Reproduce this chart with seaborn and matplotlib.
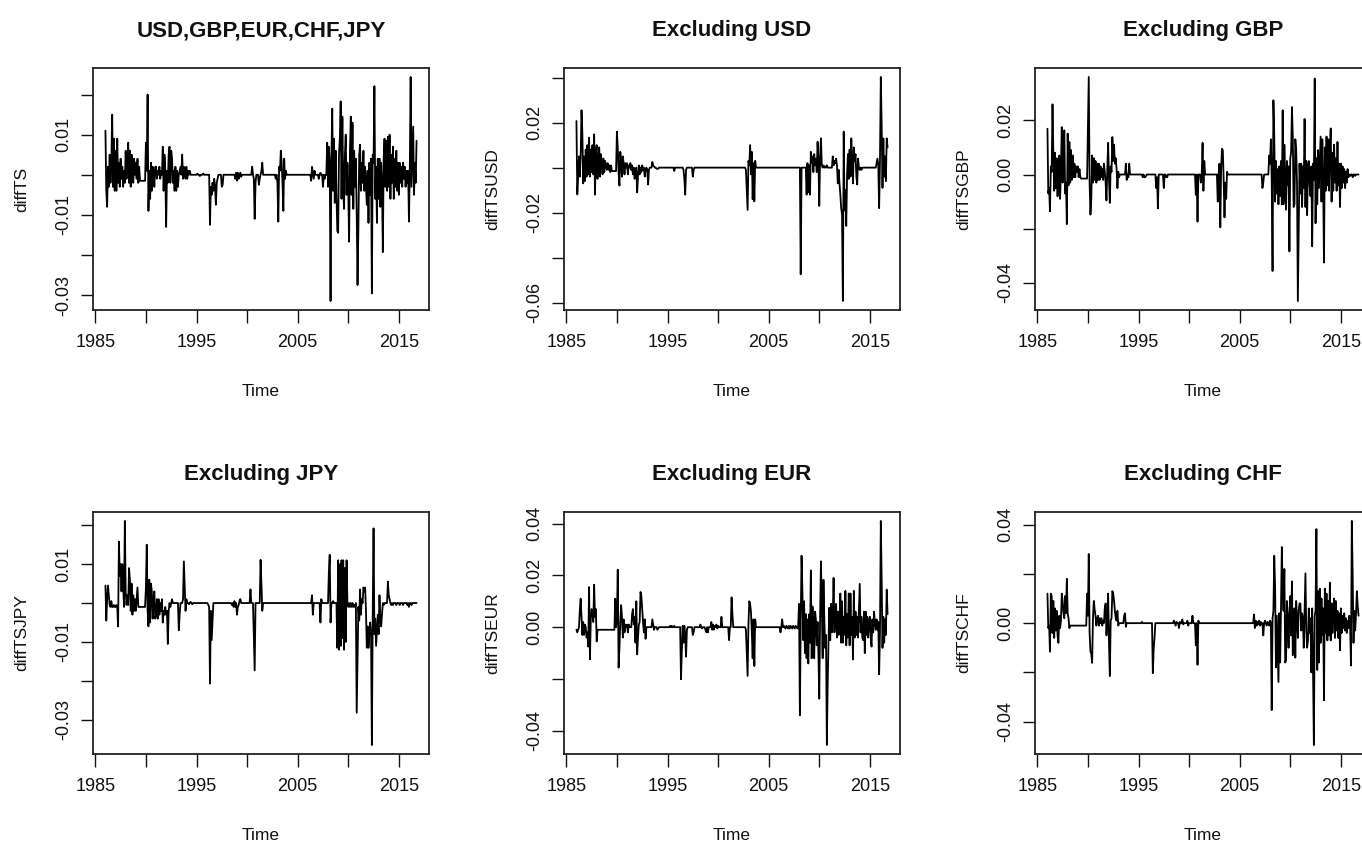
import numpy as np
import pandas as pd
import matplotlib
matplotlib.use("Agg")
import matplotlib.pyplot as plt
import seaborn as sns

# ---- data: monthly differences, Jan 1986 - Oct 2016, in units of 1e-3 ----
start_year = 1986

diff_all = [
    11, -4, -8, 2, -3, 5, -2, 3, 15, -3, 9, -4,            # 1986
    6, -4, 9, -2, 3, -3, 4, -1, 2, -3, 1, -2,              # 1987
    6, -1, 3, 8, -2, 6, -3, 5, 1, -2, 4, 0,                # 1988
    3, -1, 4, -2, 2, -1.5, -1.5, -1.5, -1.5, -1.5, -1.5, -1.5,  # 1989
    8, 1, 20, -9, 1, -6, 3, -4, 2, 1, -3, 2,               # 1990
    2, -1, 1, 0, 2, -1, 1, 0, 7, -4, 5, 1,                 # 1991
    -13, 1, -2, 5, 7, -2, 6, 4, -2, 1, -4, 2,              # 1992
    -4, 1, -3, 0, 1, 2, 0, 5, -1, 2, 0, -1,                # 1993
    2, -1, 1, 0, 1, 0, 0, 0, 0, 0, 0, 0,                   # 1994
    0, 0.3, 0, 0, -0.3, 0, 0, 0, 0.3, 0, 0, 0,             # 1995
    0, 0, 0, 0, -12.5, -3, -5, -2, -4, -1, -3, -7.5,       # 1996
    -2, -1, 0, 0, 0, 0, -3, -2.5, 0, 0, 0, 0,              # 1997
    0, 0, 0, 0, 0, 0, 0, 0, 0, 0, -1, 0.5,                 # 1998
    -1.5, 0.5, -1, 0, 0.5, -0.5, 0, 0, 0, 0, 0, 0,         # 1999
    0, 0, 0, 0, 0, 0, 2, 0, -1, -11, -2, 0,                # 2000
    0, 0, -2.5, -1, 0, 1, 3, 0, 0, 0, 0, 0,                # 2001
    0, 0, 0, 0, 0, 0, 0, 0, 0, 0, -1, 0,                   # 2002
    -2, -11.7, 2, 1, 6, 3, -2, -9, 4, -1, 1, 0,            # 2003
    0, 0, 0, 0, 0, 0, 0, 0, 0, 0, 0, 0,                    # 2004
    0, 0, 0, 0, 0, 0, 0, 0, 0, 0, 0, 0,                    # 2005
    0, 0, 0, 0, -1.5, 2, 0.5, -1, 1, 0, 0, 0,              # 2006
    0, -1, 0, 0.5, 0, 0, -3, 0, -1, 0, 0, 8,               # 2007
    -3, 7, 3, -31.5, 4, 16.5, -4, 9, -7, 6, -5, -14,       # 2008
    -14.5, 5, 9, 18.3, -6, 14.5, -3, -8.5, 5, 10, -5, 3,   # 2009
    -4, -16.7, 6, 14.5, -5, 13, -8.5, 6, -3, 4, -9.5, -27.5,  # 2010
    -13.5, 5, 7.5, -4, 3, -2, 6, -4, 2, -3, -7.5, 1,       # 2011
    -12, 3, -5, 4, -29.6, 5, 3, 22.1, -6, 2, -12, 4,       # 2012
    -6, 4, -8, 3, -2, -19.3, 4, 9, -3, 8.5, -4, 9.5,       # 2013
    -3, 10, -6, 5, -2, 7, -6, 4, -3, 6, -4, 3,             # 2014
    -5, 3, -2, 2, -3, 3, -1, 2, -3, 1, -2, 1,              # 2015
    -11.7, 2, 24.4, -3, 5, 12, -5, 3, -2, 8.5,             # 2016
]

diff_usd = [
    20.7, -11.9, -4, 5, -4, 5, 25.5, 15.6, -7, 5, -6, 8,   # 1986
    -4, 10, -3, 13.3, -4, 8, -2, 10, -3, 14.8, -12, 6,     # 1987
    10, -5, 4, 9, -4, 6, 2, -3, 4, -2, 3, 1,               # 1988
    -1, 2, -1, 1, -2, 1, -1.5, -1.5, -1.5, -1.5, -1.5, -1.5,  # 1989
    16, 9, -2, -8, 7, 3, -4, 5, 2, -3, 2, 0,               # 1990
    2, -3, 1, 0, 2, -1, 1, -3, 0, -5, -2, 0,               # 1991
    -11, -4, 1, -3, 0, -2, 1, -1, 0, -4, -1, 0,            # 1992
    -1, -7.5, -1, 0, 0, 0, 2.5, 1, 0.5, 0, 0, -0.5,        # 1993
    -0.5, -0.5, 0, 0, 0, 0, 0, 0, 0, 0, 0, 0,              # 1994
    0, 0, 0, 0, 0, 0, 0, 0, -1.5, 0, 0, 0,                 # 1995
    0, 0, 0, 0, 0, 0, 0, -1, -5, -12, -1, 0,               # 1996
    0, 0, 0, 0, 0, 0, -4, -1, 0, 0, 0, 0,                  # 1997
    0, 0, 0, 0, 0, 0, 0, 0, 0, 0, 0, 0,                    # 1998
    0, 0, 0, 0, 0, 0, 0, 0, 0, 0, 0, 0,                    # 1999
    0, 0, 0, 0, 0, 0, 0, 0, 0, 0, 0, 0,                    # 2000
    0, 0, 0, 0, 0, 0, 0, 0, 0, 0, 0, 0,                    # 2001
    0, 0, 0, 0, 0, 0, 0, 0, 0, -1, -10, -18.8,             # 2002
    3, 1, 10, -3, 7, -14, 2, -15, 3, 0, 0, 0,              # 2003
    0, 0, 0, 0, 0, 0, 0, 0, 0, 0, 0, 0,                    # 2004
    0, 0, 0, 0, 0, 0, 0, 0, 0, 0, 0, 0,                    # 2005
    0, 0, 0, 0, 0, 0, 0, 0, 0, 0, 0, 0,                    # 2006
    0, 0, 0, 0, 0, 0, 0, 0, 0, 0, 0, 0,                    # 2007
    0, 0, -47.4, 0, 0, 0, 0, 0, 0, -12, 2, -11,            # 2008
    1, -12, 7, 2, 5, -2, 6, 1, 4, -2, 11.5, 3,             # 2009
    -17, 5, 13, 1, 0, 1, 0, 0.5, 0, 1, 0, 0,               # 2010
    0, 0, 0, 0, 5, 1, 3, 2, 4, 1, -7, -1,                  # 2011
    -7, -12, -18, -21, -59.3, 16, -19, -10, -25.9, -3, 6, -5,  # 2012
    8, -4, 13, 2, -7, 9, 3, 6, -4, -7.5, 4, 0,             # 2013
    -1, 0, -1, 0, 0, 0, 0, 0, 0, 0, 0, 0,                  # 2014
    0, 0, 0, 0, 0, 0, 0, 0, 2, 4, 1, -18,                  # 2015
    3, 40.3, 19, -9, 13, -4, 5, -6, 13, 9,                 # 2016
]

diff_gbp = [
    16.9, -7, -5, -13.6, 3, 1, 25.9, 8, -6, 8, -5, 6,      # 1986
    -8, 4, 7, -9, 2, 17.5, -3, 5, 16.3, -7, -3, -18.3,     # 1987
    15.1, -4, 12, -3, 9, -2, 7, -1, 4, -1, 3, 1,           # 1988
    3, -1, 2, -1, -1.5, -1.5, -1.5, -1.5, -1.5, -1.5, -1.5, -1.5,  # 1989
    17.5, 36, -3, -14.8, -9, 7, -3, 6, -2, 5, -3, 4,       # 1990
    -2, 4, -2, 3, -1, 2, -2, 4, 1, -3, -9.6, 2,            # 1991
    11.7, -2, -10.5, 3, 1, 13.8, 5, 11, 4, 6, 2, -5,       # 1992
    1, -1, 0, 0, 0, 0, 0, 0, 0, 4, -2, 0,                  # 1993
    -1, 4, 0, 0, 0, 0, 0, 0, 0, 0, 0, 0,                   # 1994
    0, 0, 0, 0, 0, -1, 0, -1, -1, -0.5, 0, 0,              # 1995
    0, 0, 0, 0, 0, 0, 0, 0, 0, -5, -1, -12.5,              # 1996
    0, 0, 0, 0, 0, 0, -5, 0, 0, -1, -1, 0,                 # 1997
    0, 0, 0, 0, 0, 0, 0, 0, 0, 0, 0, 0,                    # 1998
    0, 0, 0, 0, 0, 0, 0, 0, 0, 0, 0, 0,                    # 1999
    0, 0, 0, 0, 0, 0, 0, 0, -7.5, 0, -17.4, 0,             # 2000
    0, 0, -3, 0, 11.7, -6, 5, 0, 0, 0, 0, 0,               # 2001
    0, 0, 0, 0, 0, 0, 0, 0, 0, 0, -10, 0,                  # 2002
    4, -19.5, 2, 9.5, 9, -2, -15.8, -3, -9, 1, 0, 0,       # 2003
    0, 0, 0, 0, 0, 0, 0, 0, 0, 0, 0, 0,                    # 2004
    0, 0, 0, 0, 0, 0, 0, 0, 0, 0, 0, 0,                    # 2005
    0, 0, 0, 0, 0, 0, 0, 0, 0, 0, 0, 0,                    # 2006
    0, 0, 0, -5, -3, 0, 0, 0, 0, 0, 0, 7,                  # 2007
    4, 13, -2, -35.6, 27.4, 14.5, -10, 5, -7, 2, -11, 3,   # 2008
    -8, 5, -11, 23.7, -11, 11, -2, -13, 5, -4, 3, -28.4,   # 2009
    6, 8, 24.9, 14, -12, -11, 13, 9, -3, -46.7, -22, 4,    # 2010
    -7, 4, -12, 3, -5, 20.5, -12, 5, -15, 3, 5, -4,        # 2011
    -8, 3, -26.5, 4, -2, 35.4, -18, 6, -11, 9, -5, 4,      # 2012
    14, -10, 13, -3, -32.5, 10, -6, 14, -4, 13, -6, 10,    # 2013
    17, -10, 8, -6, 11, -3, 6, -6, 12, -4, 4, -12,         # 2014
    4, -5, 3, -3, 2, -5, 1, -3, 2, -1, 0, -0.5,            # 2015
    0, 0, -1, 0, 0, -0.5, 0, 0, 0, 0,                      # 2016
]

diff_jpy = [
    4.5, -4.5, 1, 4.5, 2, -0.5, -1, 0.5, -1, -1, -0.5, -1,  # 1986
    -1, -0.5, -1, -6, 15.8, 7, 10, 3, 10, 5, -1, 21.1,     # 1987
    3, -0.5, 2, -0.5, 9, 6, -2, 5, -3, 2, -2, 1,           # 1988
    -2, 1, 4, -1, -1, -1, -1, -1, -1, -1, -1, -1,          # 1989
    4, 15, -2, -6, 6, -5, 5, 3, -4, 1, 3, -4,              # 1990
    -3, 1, -4, 1, -3, 0, -2, 1, -5, -2, -3, -1,            # 1991
    -3, -2, -10.5, -2, 0, -1, 0, 1, 0, 0, 0, 0,            # 1992
    0, 0, 0, -7, -3, 0, 0, 0, 1, 10.7, 4, -2,              # 1993
    1, 0, 0, -0.3, 0, 0.3, 0, -0.3, 0, 0, 0, 0,            # 1994
    0, 0, 0, 0, 0, 0, 0, 0, 0, 0, 0, 0,                    # 1995
    0, 0, -0.5, -1, -20.7, -2, -9.5, -5, 0, 0, 0, 0,       # 1996
    0, 0, 0, 0, 0, 0, 0, 0, 0, 0, 0, 0,                    # 1997
    0, 0, 0, 0, 0, 0, -0.5, 0, -1, 0.5, -1, 0,             # 1998
    -3, -1, -0.5, 0.5, 1, 0, 0, 0, 0, 0, 0, 0,             # 1999
    0, 0, 0, 0, 3.5, 0, 0, 0, -8.5, -17.3, 0, 0,           # 2000
    0, 0, 0, 0, 11.1, 5, -2, 0, 0, 0, 0, 0,                # 2001
    0, 0, 0, 0, 0, 0, 0, 0, 0, 0, 0, 0,                    # 2002
    0, 0, 0, 0, 0, 0, 0, 0, 0, 0, 0, 0,                    # 2003
    0, 0, 0, 0, 0, 0, 0, 0, 0, 0, 0, 0,                    # 2004
    0, 0, 0, 0, 0, 0, 0, 0, 0, 0, 0, 0,                    # 2005
    0, 0, 0, 0, 0, 2, -3, 0, 0, 0, 0, 0,                   # 2006
    0, 0, 0, -5, 1, 0, 0, 0, 0, 0, 0, 0,                   # 2007
    0, 8, 12.4, -5, 0, 0, 0.5, 0, 0, 0, 0, -11.5,          # 2008
    11, -12, 10, -11, 11, -9, 11, -12, 9, -10, 11, 0,      # 2009
    -1, 0, -1, 0, -1, 0, -1, -0.5, -1, 0, -28.2, -14.5,    # 2010
    -1, -4.5, 3.5, -3, 1, 0, 4, 3, 4, -2, -11.5, -6,       # 2011
    -11.5, -8, -5, -8, -36.5, -3, 19.2, -8, -4, -11, -7, -3,  # 2012
    -8, 2, -4, -6, -3, 0, -0.5, 0, 0, 0, 0, 5.5,           # 2013
    2, 1, 0, -0.5, 0, -0.5, 0, 0, 0, -0.5, 0, 0,           # 2014
    0, -0.5, 0, 0, 0, -0.5, 0, 0, 0, 0, -0.5, 0,           # 2015
    -1, 0, 0, -0.5, 0, 0, 0, 0, 0, 0,                      # 2016
]

diff_eur = [
    -1, -2, -1, 0, 6.5, 11, 4, -3, 2, -3, 1, 0,            # 1986
    -4, -2, -7.5, 15.5, -12.4, 3, 7, 6, 2, 16.4, 4, 7,     # 1987
    -5.5, -1, -1, -1, -1, -1, -1, -1, -1, -1, -1, -1,      # 1988
    -1, -1, -1, -1, -1, -1, -1, -1, -1, -1, 11, 0,         # 1989
    3, 22.2, -15.6, -8, 2, 8.5, 4, -4, 3, -2, 1, 0,        # 1990
    1, -2, 1, 0, 0, 0, 5, 7, 1, 4, -6, 10,                 # 1991
    -10.5, -4, 1, 2, 13.6, 12, 7, 2, -2, 3, -4.5, 0,       # 1992
    0, 0, 0, 0, 0, 0, 3, 1, -1, 0, 0, 0,                   # 1993
    -1, -0.5, 0, 0, 0, 0, 0, 0, 0, 0, 0, 0,                # 1994
    0, 0, 0, 0.5, 0, 0.5, 0, 0, 0.5, 0, 0, 0,              # 1995
    0, 0, 0, 0, -20.1, -9, 0.5, -6, 0.5, -3, -11.4, -1,    # 1996
    0, 0, 0, 0, 0, 0, -3, -2, 0, 0, 0, 0,                  # 1997
    0, 0, 0, 1, 0, -0.5, 0, 0, 0, -1, -2, 0,               # 1998
    -2, 0, 0, 0, 2, -1, 1, -1, 0.5, 0, 1, -0.5,            # 1999
    0.5, 0, 0, 0, 4, 0, 0, 0, 0, 0, 0, 0,                  # 2000
    0, -5, 0, 0, 11.5, 5, 0, 0, 0, 0, 0, 0,                # 2001
    0, 0, 0, 0, 0, 0, 0, 0, 0, -1, -9.9, -18.8,            # 2002
    1, 10, 9, 6, -2, -12, 3, -15, 3, 0, 0, 0,              # 2003
    0, 0, 0, 0, 0, 0, 0, 0, 0, 0, 0, 0,                    # 2004
    0, 0, 0, 0, 0, 0, 0, 0, 0, 0, 0, 0,                    # 2005
    0, 0, -2, 0, 3, 0, 0.5, 0, -0.5, 0.5, 0, -0.5,         # 2006
    0.5, -0.5, 0.5, 0, -0.5, 0.5, 0, -0.5, 0.5, 0, -0.5, 0.5,  # 2007
    9, -34, 2, 27.6, 14, -5, 10, -10, 5, -12, 3, -14,      # 2008
    5, -6, 21.9, -12, 8, -4, -12, 6, 3, -7, 2, -10,        # 2009
    -27.6, 4, 25.4, 8, -12, 18.3, 3, -8, -3, -45.5, -21.7, -5,  # 2010
    7.5, -5, 9, -2, 4, 19, -2, 5, 9, -4, 6, -3,            # 2011
    2, 13, -6, 10, -6, 4, -3, 14, -7, 5, -4, 13,           # 2012
    -7, 13, -3, 4, -12.5, 14, -4, 6, -3, 4, -4, 6,         # 2013
    16.7, -2, 4, -4, -5, 6, -10, 6, -3, 4, -4, 2,          # 2014
    4, -4, -7.5, 3, -2, 6, 2, -1, 3, -1, 2, -18.2,         # 2015
    -2, 41, 19, -8, 4, -6, 3, -3, 14.5, 5,                 # 2016
]

diff_chf = [
    12, -2, -1, -11.6, 12, 11, -4, 9, -6, 6, -3, 5,        # 1986
    -5, -8, 3, -2, 1, 12, 9, 4, 2, 11, 4, 18,              # 1987
    4, 2, -2, -1, -1, -1, -1, -1, -1, -1, -1, -1,          # 1988
    -1, -1, -1, -1, -1, -1, -1, -1, -1, -1, -1, 12,        # 1989
    3, 28.1, -4, -11.5, -12.5, -16.1, 2, 9, 5.5, 3, -1, 2,  # 1990
    3, -1, 2, 0, 2, -1, 1, 0, 6, 8, -5, 2,                 # 1991
    12, -8, -21.5, 1, 2, 13, 12, 9, 5, 2, 1, 5,            # 1992
    -1, 0, 0, 0, 0, 0, 0, 3, 4, -1.5, 0, 0,                # 1993
    0, 0, 0, 0, 0, 0, 0, 0, 0, 0, 0, 0,                    # 1994
    0, 0, 0, 0, 0.5, 0, 0, 0, 0, 0, 0, 0,                  # 1995
    0, 0, 0, 0, 0, -20.3, -10.5, -6, 0, 0, 0, 0,           # 1996
    0, 0, 0, 0, 0, 0, 0, 0, 0, 0, 0, 0,                    # 1997
    0, 0, 0, 0, 0, 0, 1, 0, -1, 0.5, 0, 0,                 # 1998
    -2, 0.5, 0, 0, 1.5, -0.5, 0, 0, 0, 0, 1, -1,           # 1999
    0, 0, 0, 0, 3, 0, 0, 0, -9, 0, -16.9, 1,               # 2000
    0, 0, 0, 0, 0, 0, 0, 0, 0, 0, 0, 0,                    # 2001
    0, 0, 0, 0, 0, 0, 0, 0, 0, 0, 0, 0,                    # 2002
    0, 0, 0, 0, 0, 0, 0, 0, 0, 0, 0, 0,                    # 2003
    0, 0, 0, 0, 0, 0, 0, 0, 0, 0, 0, 0,                    # 2004
    0, 0, 0, 0, 0, 0, 0, 0, 0, 0, 0, 0,                    # 2005
    0, 0, 0, 0, 0, 3.5, -2, 1, -1, 0.5, -0.5, 1,           # 2006
    -1, 0.5, -0.5, 0, -5, 0, 1, 0, -1, 0.5, 0, -1,         # 2007
    1, 0, -35.3, 2, 5, 27.4, 15, -18, 3, -10, -23.9, 4,    # 2008
    -16, 6, 30.9, 14, 5, 22, -16, -15, 9, 2, -10, 4,       # 2009
    11, -5, 17, -13, 3, 6, -14, 9, 2, -6, 5, 8,            # 2010
    8, -3, 4, 2, -10, 5, 20.2, -3, -10, -7, 6, -4,         # 2011
    2, -20, 6, -19, -49.5, 3, 5, 38.2, -19, 13, -16, 14,   # 2012
    -8, 10, -5, 6, -31.3, 14, -4, 12, -7, 9, -5, 16.4,     # 2013
    -7, 8, -4, 6, 10, -6, 9, -3, 5, -6, 4, -11,            # 2014
    6, -4, 3, -2, 4, -3, 2, -4, 1, -2, 3, -1,              # 2015
    -17.2, 41.5, 20, -8, 5, -3, 4, 13, 7, 3,               # 2016
]

titles = ["USD,GBP,EUR,CHF,JPY", "Excluding USD", "Excluding GBP",
          "Excluding JPY", "Excluding EUR", "Excluding CHF"]
ylabels = ["diffTS", "diffTSUSD", "diffTSGBP", "diffTSJPY", "diffTSEUR", "diffTSCHF"]
series = [diff_all, diff_usd, diff_gbp, diff_jpy, diff_eur, diff_chf]

x_ticks = [1985, 1990, 1995, 2000, 2005, 2010, 2015]
x_ticklabels = ["1985", "", "1995", "", "2005", "", "2015"]
y_ticks = [
    [-0.03, -0.02, -0.01, 0.0, 0.01, 0.02],
    [-0.06, -0.04, -0.02, 0.0, 0.02, 0.04],
    [-0.04, -0.02, 0.0, 0.02],
    [-0.03, -0.02, -0.01, 0.0, 0.01, 0.02],
    [-0.04, -0.02, 0.0, 0.02, 0.04],
    [-0.04, -0.02, 0.0, 0.02, 0.04],
]
y_ticklabels = [
    ["-0.03", "", "-0.01", "", "0.01", ""],
    ["-0.06", "", "-0.02", "", "0.02", ""],
    ["-0.04", "", "0.00", "0.02"],
    ["-0.03", "", "-0.01", "", "0.01", ""],
    ["-0.04", "", "0.00", "0.02", "0.04"],
    ["-0.04", "", "0.00", "", "0.04"],
]

# ---- style ----
sns.set_theme(style="white")
plt.rcParams["font.family"] = ["Liberation Sans", "DejaVu Sans"]
plt.rcParams["axes.xmargin"] = 0.04
plt.rcParams["axes.ymargin"] = 0.04
ink = "#111111"

W, H = 1362, 841
fig = plt.figure(figsize=(W / 100, H / 100), dpi=100)

# axes boxes in pixels (left, top) ; third column runs past the right edge
lefts = [93, 564, 1035]
tops = [68, 512]
box_w, box_h = 336, 242

for i, (vals, title, ylab) in enumerate(zip(series, titles, ylabels)):
    r, c = divmod(i, 3)
    ax = fig.add_axes([lefts[c] / W, 1 - (tops[r] + box_h) / H, box_w / W, box_h / H])

    v = np.array(vals, dtype=float) / 1000.0
    t = start_year + np.arange(len(v)) / 12.0
    df = pd.DataFrame({"Time": t, "value": v})
    sns.lineplot(data=df, x="Time", y="value", ax=ax, color="black",
                 linewidth=1.3, estimator=None)

    ax.autoscale_view()
    xl, yl = ax.get_xlim(), ax.get_ylim()
    ax.set_xticks(x_ticks)
    ax.set_xticklabels(x_ticklabels)
    ax.set_yticks(y_ticks[i])
    ax.set_yticklabels(y_ticklabels[i], rotation=90, va="center")
    ax.set_xlim(xl)
    ax.set_ylim(yl)

    ax.tick_params(direction="out", length=9, width=1.0,
                   labelsize=13, colors=ink, left=True, bottom=True)
    ax.tick_params(axis="x", pad=8)
    ax.tick_params(axis="y", pad=6)
    for sp in ax.spines.values():
        sp.set_color("#222222")
        sp.set_linewidth(1.3)

    ax.set_title(title, fontsize=16, fontweight="bold", color=ink, pad=23)
    ax.set_xlabel("Time", fontsize=12.5, color=ink, labelpad=24)
    ax.set_ylabel(ylab, fontsize=12.5, color=ink, labelpad=19)
    ax.grid(False)

fig.savefig("out.png", dpi=100)
